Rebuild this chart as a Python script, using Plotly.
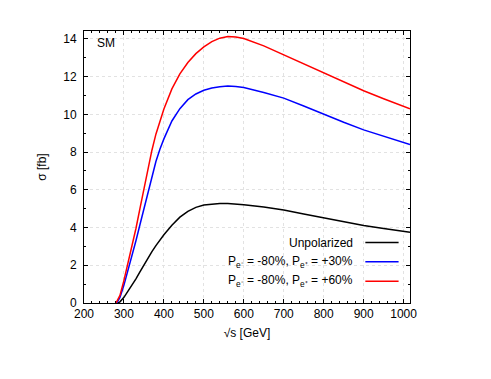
import plotly.graph_objects as go

# ── Data ──────────────────────────────────────────────────────────────────────
SQRT_S_RED = [280, 290, 300, 310, 320, 330, 340, 350, 360, 370, 380, 390, 400,
              420, 440, 460, 480, 500, 520, 540, 560, 580, 600, 650, 700, 750,
              800, 850, 900, 950, 1000, 1016]
SIG_RED = [0.0, 0.4, 1.2, 2.1, 3.05, 3.95, 5.0, 6.05, 7.1, 8.1, 8.95, 9.65,
           10.28, 11.35, 12.15, 12.75, 13.22, 13.58, 13.86, 14.04, 14.13, 14.1,
           14.02, 13.63, 13.15, 12.67, 12.2, 11.71, 11.25, 10.83, 10.45, 10.3]

SQRT_S_BLUE = [282, 290, 300, 310, 320, 330, 340, 350, 360, 370, 380, 390, 400,
               420, 440, 460, 480, 500, 520, 540, 560, 580, 600, 650, 700, 750,
               800, 850, 900, 950, 1000, 1016]
SIG_BLUE = [0.0, 0.3, 0.95, 1.7, 2.5, 3.3, 4.15, 5.0, 5.9, 6.75, 7.5, 8.15,
            8.7, 9.65, 10.3, 10.78, 11.08, 11.28, 11.4, 11.47, 11.5, 11.48,
            11.42, 11.16, 10.86, 10.44, 10.0, 9.58, 9.18, 8.83, 8.52, 8.4]

SQRT_S_BLACK = [285, 290, 300, 310, 320, 330, 340, 350, 360, 370, 380, 390, 400,
                420, 440, 460, 480, 500, 520, 540, 560, 580, 600, 650, 700, 750,
                800, 850, 900, 950, 1000, 1016]
SIG_BLACK = [0.0, 0.06, 0.3, 0.62, 0.93, 1.28, 1.65, 2.02, 2.38, 2.72, 3.04,
             3.34, 3.62, 4.12, 4.55, 4.86, 5.07, 5.19, 5.25, 5.27, 5.27, 5.25,
             5.21, 5.09, 4.93, 4.72, 4.51, 4.3, 4.11, 3.95, 3.81, 3.75]

LABELS = ["Unpolarized",
          "P<sub>e⁻</sub> = -80%, P<sub>e⁺</sub> = +30%",
          "P<sub>e⁻</sub> = -80%, P<sub>e⁺</sub> = +60%"]
COLORS = ["#000000", "#0000ff", "#ff0000"]

FONT = "Liberation Sans, Arial, Helvetica, sans-serif"

fig = go.Figure()
series = [(SQRT_S_BLACK, SIG_BLACK), (SQRT_S_BLUE, SIG_BLUE), (SQRT_S_RED, SIG_RED)]
for (xs, ys), name, color in zip(series, LABELS, COLORS):
    fig.add_trace(go.Scatter(
        x=xs, y=ys, mode="lines", name=name,
        line=dict(color=color, width=1.5),
        showlegend=False,
    ))

# gnuplot-style key: text right-aligned, sample line to the right
key_y = [0.222, 0.152, 0.080]
for name, color, ky in zip(LABELS, COLORS, key_y):
    fig.add_annotation(xref="paper", yref="paper", x=0.83, y=ky,
                       text=name, showarrow=False, xanchor="right",
                       yanchor="middle", font=dict(size=12, color="black"))
    fig.add_shape(type="line", xref="paper", yref="paper",
                  x0=0.863, x1=0.965, y0=ky, y1=ky,
                  line=dict(color=color, width=1.5))

fig.add_annotation(xref="paper", yref="paper", x=0.035, y=0.955,
                   text="SM", showarrow=False, xanchor="left", yanchor="middle",
                   font=dict(size=12, color="black"))

axis_common = dict(
    showline=True, linecolor="black", linewidth=1, mirror="allticks",
    ticks="inside", ticklen=4, tickcolor="black",
    showgrid=True, gridcolor="#e2e2e2", griddash="dot", gridwidth=1,
    zeroline=False, tickfont=dict(size=12, color="black"),
)

fig.update_xaxes(
    range=[200, 1016], tick0=200, dtick=100,
    minor=dict(dtick=20, ticks="inside", ticklen=2, tickcolor="black", showgrid=False),
    title=dict(text="√s [GeV]", font=dict(size=12, color="black"), standoff=8),
    **axis_common,
)
fig.update_yaxes(
    range=[0, 14.42], tick0=0, dtick=2,
    minor=dict(dtick=1, ticks="inside", ticklen=2, tickcolor="black", showgrid=False),
    title=dict(text="σ [fb]", font=dict(size=12, color="black"), standoff=14),
    ticklabelstandoff=4,
    **axis_common,
)

# page body has an 8px margin, so the figure is sized to fit inside it
fig.update_layout(
    width=483, height=371,
    margin=dict(l=76, r=81, t=23, b=76),
    paper_bgcolor="white", plot_bgcolor="white",
    font=dict(family=FONT, size=12, color="black"),
)

fig.write_html("out.html")
